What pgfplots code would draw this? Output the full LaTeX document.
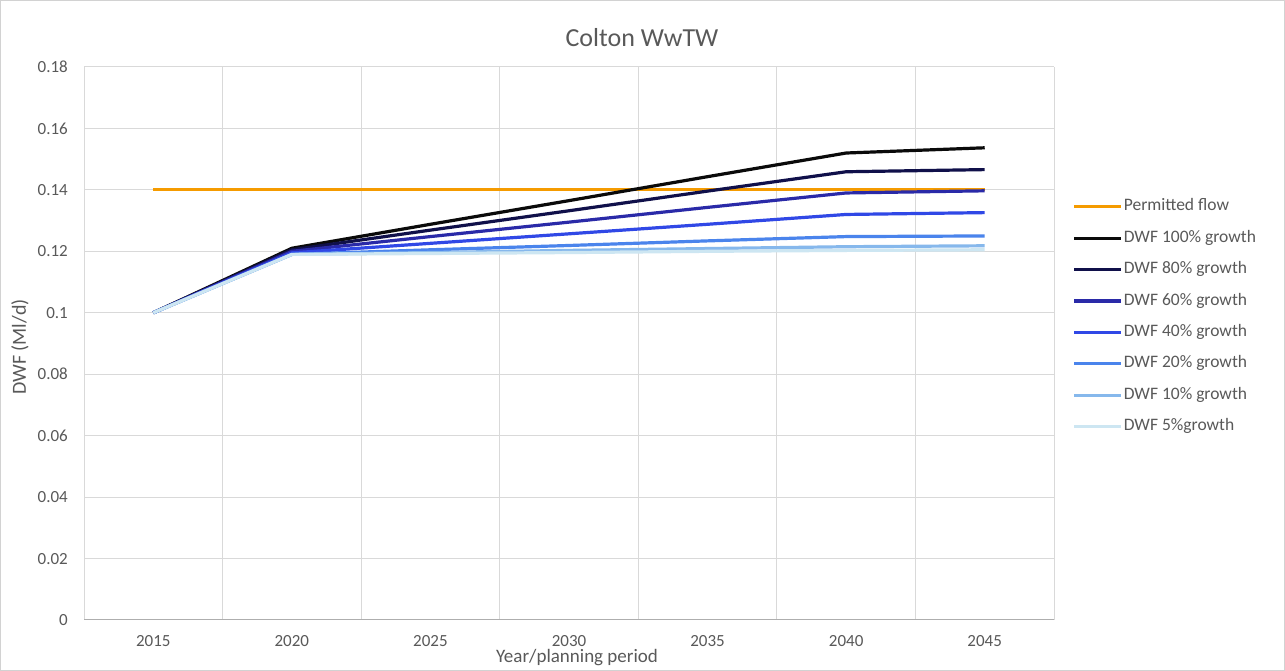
\documentclass[border=0pt]{standalone}
\usepackage{pgfplots}
\pgfplotsset{compat=1.18}
\usepackage{fontspec}
\setmainfont{Carlito}
\definecolor{txt}{HTML}{595959}
\definecolor{gridc}{HTML}{D9D9D9}
\definecolor{permit}{HTML}{F59B00}
\definecolor{g100}{HTML}{0A0A0A}
\definecolor{g80}{HTML}{10104A}
\definecolor{g60}{HTML}{2A2AA8}
\definecolor{g40}{HTML}{3048E6}
\definecolor{g20}{HTML}{4A84EC}
\definecolor{g10}{HTML}{86B8EC}
\definecolor{g5}{HTML}{CDE6F2}
\begin{document}
\begin{tikzpicture}[x=1pt,y=1pt]
\fill[white] (0,0) rectangle (1285,671);
\draw[gray!35, line width=1pt] (0.5,0.5) rectangle (1284.5,670.5);
\useasboundingbox (0,0) rectangle (1285,671);
\begin{axis}[
  at={(84pt,51pt)}, anchor=south west,
  scale only axis, width=970pt, height=553pt,
  xmin=-0.5, xmax=6.5, ymin=0, ymax=0.18,
  axis line style={draw=none},
  tick style={draw=none},
  xtick={0,1,2,3,4,5,6},
  xticklabels={2015,2020,2025,2030,2035,2040,2045},
  minor xtick={-0.5,0.5,1.5,2.5,3.5,4.5,5.5,6.5},
  xminorgrids,
  ytick={0,0.02,0.04,0.06,0.08,0.1,0.12,0.14,0.16,0.18},
  yticklabels={0,0.02,0.04,0.06,0.08,0.1,0.12,0.14,0.16,0.18},
  ymajorgrids,
  grid style={gridc, line width=1pt},
  minor grid style={gridc, line width=1pt},
  ticklabel style={font=\fontsize{17}{17}\selectfont, text=txt, inner sep=0pt},
  yticklabel style={anchor=east, xshift=-16pt},
  xticklabel style={anchor=center, yshift=-21pt},
  legend cell align=left,
  legend style={at={(1.019,0.762)}, anchor=north west, draw=none, fill=none,
    font=\fontsize{17.5}{17.5}\selectfont, text=txt, row sep=15.4pt,
    inner sep=0pt, nodes={inner xsep=1pt, inner ysep=0pt, text height=12pt, text depth=4pt}},
  legend image code/.code={\draw[#1] (0pt,0pt) -- (47pt,0pt);},
  every axis plot/.append style={line width=3.2pt, line join=round},
]
\addplot[permit] coordinates {(0,0.14)(1,0.14)(2,0.14)(3,0.14)(4,0.14)(5,0.14)(6,0.14)};
\addplot[g100] coordinates {(0,0.1)(1,0.121)(2,0.1288)(3,0.1365)(4,0.1443)(5,0.152)(6,0.1537)};
\addplot[g80] coordinates {(0,0.1)(1,0.1205)(2,0.1269)(3,0.1332)(4,0.1396)(5,0.1459)(6,0.1466)};
\addplot[g60] coordinates {(0,0.1)(1,0.120)(2,0.1248)(3,0.1295)(4,0.1343)(5,0.139)(6,0.1397)};
\addplot[g40] coordinates {(0,0.1)(1,0.1195)(2,0.1226)(3,0.1257)(4,0.1288)(5,0.132)(6,0.1326)};
\addplot[g20] coordinates {(0,0.1)(1,0.119)(2,0.1205)(3,0.1219)(4,0.1234)(5,0.1248)(6,0.125)};
\addplot[g10] coordinates {(0,0.1)(1,0.119)(2,0.1196)(3,0.1203)(4,0.1209)(5,0.1215)(6,0.1218)};
\addplot[g5] coordinates {(0,0.1)(1,0.119)(2,0.1193)(3,0.1196)(4,0.120)(5,0.1203)(6,0.1205)};
\legend{Permitted flow,DWF 100\% growth,DWF 80\% growth,DWF 60\% growth,DWF 40\% growth,DWF 20\% growth,DWF 10\% growth,DWF 5\%growth}
\draw[gridc!80!black, line width=1pt] (axis cs:-0.5,0) -- (axis cs:6.5,0);
\end{axis}
\node[text=txt, font=\fontsize{26}{26}\selectfont] at (642,633) {Colton WwTW};
\node[text=txt, font=\fontsize{19}{19}\selectfont, inner sep=0pt] at (577,13) {Year/planning period};
\node[text=txt, font=\fontsize{20}{20}\selectfont, rotate=90] at (20,324) {DWF (Ml/d)};
\end{tikzpicture}
\end{document}
